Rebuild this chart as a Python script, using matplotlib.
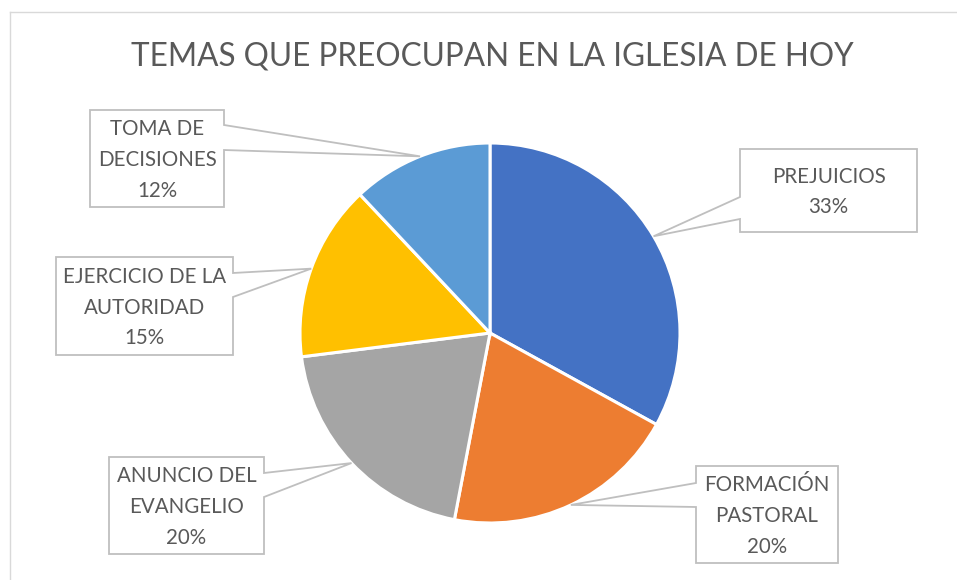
import matplotlib
matplotlib.use("Agg")
import matplotlib.pyplot as plt
from matplotlib.patches import Polygon
import numpy as np

W, H = 957, 580

title = "TEMAS QUE PREOCUPAN EN LA IGLESIA DE HOY"
categories = ["PREJUICIOS", "FORMACIÓN\nPASTORAL", "ANUNCIO DEL\nEVANGELIO",
              "EJERCICIO DE LA\nAUTORIDAD", "TOMA DE\nDECISIONES"]
values = [33, 20, 20, 15, 12]
pct_labels = ["33%", "20%", "20%", "15%", "12%"]
colors = ["#4472C4", "#ED7D31", "#A5A5A5", "#FFC000", "#5B9BD5"]

# label boxes in pixel coords (left, top, right, bottom), side of pointer, pointer attach y's
boxes = [
    (740, 149, 917, 232, "left", 197, 219),
    (696, 466, 838, 563, "left", 483, 507),
    (109, 457, 264, 554, "right", 473, 497),
    (56, 257, 233, 355, "right", 273, 297),
    (90, 110, 224, 207, "right", 125, 150),
]

text_color = "#595959"
line_color = "#BFBFBF"

fig = plt.figure(figsize=(W / 100, H / 100), dpi=100)
ax = fig.add_axes([0, 0, 1, 1])

def Y(y):
    return H - y

cx, cy, r = 490, Y(333), 190
wedges, _ = ax.pie(values, colors=colors, startangle=90, counterclock=False,
                   center=(cx, cy), radius=r,
                   wedgeprops=dict(edgecolor="white", linewidth=2.2))
ax.set_xlim(0, W)
ax.set_ylim(0, H)
ax.set_aspect("equal")
ax.set_axis_off()

# frame lines (top and left)
ax.plot([9.5, W], [Y(11.5), Y(11.5)], color="#D9D9D9", lw=1.0, zorder=1)
ax.plot([9.5, 9.5], [Y(11.5), 0], color="#D9D9D9", lw=1.0, zorder=1)

ax.text(492, Y(56), title, ha="center", va="center", fontsize=22.7,
        family="Lato", color=text_color)

for w, cat, pct, b in zip(wedges, categories, pct_labels, boxes):
    mid = np.deg2rad((w.theta1 + w.theta2) / 2)
    ax_x = cx + r * np.cos(mid)
    ax_y = cy + r * np.sin(mid)
    l, t, rr, bt, side, a1, a2 = b
    if side == "right":
        verts = [(l, Y(t)), (rr, Y(t)), (rr, Y(a1)), (ax_x, ax_y), (rr, Y(a2)),
                 (rr, Y(bt)), (l, Y(bt))]
    else:
        verts = [(l, Y(t)), (rr, Y(t)), (rr, Y(bt)), (l, Y(bt)), (l, Y(a2)),
                 (ax_x, ax_y), (l, Y(a1))]
    ax.add_patch(Polygon(verts, closed=True, facecolor="white",
                         edgecolor=line_color, lw=1.3, zorder=3))
    ax.text((l + rr) / 2, Y((t + bt) / 2 + 1.5), cat + "\n" + pct,
            ha="center", va="center", fontsize=14.8, family="Lato",
            color=text_color, linespacing=1.68, zorder=4)

fig.savefig("out.png", dpi=100, facecolor="white")
